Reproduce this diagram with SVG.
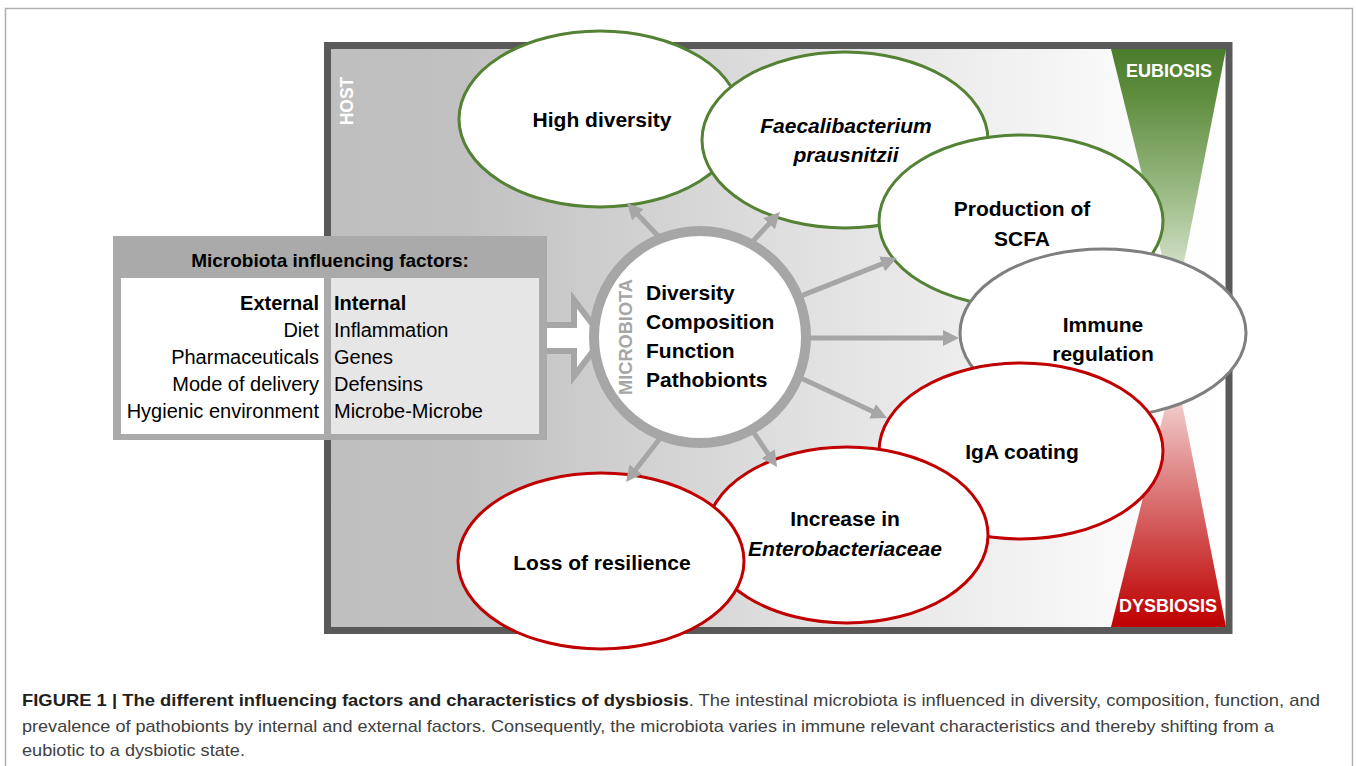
<svg xmlns="http://www.w3.org/2000/svg" width="1356" height="766" viewBox="0 0 1356 766">
<defs>
<style>
.t{font-family:"Liberation Sans",Arial,sans-serif;fill:#000}
.b{font-weight:bold}
.it{font-style:italic}
.el{fill:#fff;stroke-width:3}
.g{stroke:#548235}
.r{stroke:#c00000}
.gr{stroke:#7f7f7f}
.con{stroke:#a6a6a6;stroke-width:5;fill:none}
.cap{font-family:"Liberation Sans Narrow","Liberation Sans",Arial,sans-serif;font-size:17px;fill:#404040}
</style>
<linearGradient id="hostg" gradientUnits="userSpaceOnUse" x1="331" y1="0" x2="1226" y2="0">
<stop offset="0" stop-color="#bfbfbf"/>
<stop offset="0.15" stop-color="#c1c1c1"/>
<stop offset="0.55" stop-color="#e2e2e2"/>
<stop offset="0.9" stop-color="#fbfbfb"/>
<stop offset="1" stop-color="#ffffff"/>
</linearGradient>
<linearGradient id="eug" gradientUnits="userSpaceOnUse" x1="0" y1="49" x2="0" y2="308">
<stop offset="0" stop-color="#4b7b2c"/>
<stop offset="0.18" stop-color="#5e8d3e"/>
<stop offset="0.6" stop-color="#a3c08e"/>
<stop offset="1" stop-color="#f0f5ec"/>
</linearGradient>
<linearGradient id="dyg" gradientUnits="userSpaceOnUse" x1="0" y1="368" x2="0" y2="627">
<stop offset="0" stop-color="#fbecec"/>
<stop offset="0.4" stop-color="#e08a8a"/>
<stop offset="0.85" stop-color="#c52020"/>
<stop offset="1" stop-color="#c00000"/>
</linearGradient>
<marker id="ah" viewBox="0 0 16 16" refX="4" refY="8" markerWidth="16" markerHeight="16" markerUnits="userSpaceOnUse" orient="auto">
<path d="M0,0 L16,8 L0,16 z" fill="#a6a6a6"/>
</marker>
</defs>

<rect x="5.5" y="8.5" width="1347" height="800" fill="#fff" stroke="#b0b0b0" stroke-width="1.5"/>

<g id="host">
<rect x="331" y="49" width="895" height="578" fill="url(#hostg)"/>
<polygon id="eubiosis-bar" points="1111,49 1226,49 1175,308" fill="url(#eug)"/>
<polygon id="dysbiosis-bar" points="1111,627 1226,627 1175,368" fill="url(#dyg)"/>
<rect x="327.5" y="45.5" width="901.5" height="585" fill="none" stroke="#595959" stroke-width="7"/>
<text class="t b" x="0" y="0" font-size="17.5" fill="#fff" style="fill:#fff" text-anchor="middle" transform="translate(353,101) rotate(-90)">HOST</text>
<text class="t b" x="1169" y="77" font-size="18" style="fill:#fff" text-anchor="middle">EUBIOSIS</text>
<text class="t b" x="1168" y="612" font-size="18" style="fill:#fff" text-anchor="middle">DYSBIOSIS</text>
</g>

<g id="node-high-diversity">
<ellipse class="el g" cx="600" cy="119" rx="141" ry="88"/>
<text class="t b" x="602" y="127" font-size="21" text-anchor="middle">High diversity</text>
</g>
<g id="node-faecalibacterium">
<ellipse class="el g" cx="845" cy="140" rx="143" ry="88"/>
<text class="t b it" x="846" y="133" font-size="21" text-anchor="middle">Faecalibacterium</text>
<text class="t b it" x="846" y="162" font-size="21" text-anchor="middle">prausnitzii</text>
</g>
<g id="node-scfa">
<ellipse class="el g" cx="1021" cy="221" rx="142" ry="86"/>
<text class="t b" x="1022" y="216" font-size="21" text-anchor="middle">Production of</text>
<text class="t b" x="1022" y="246" font-size="21" text-anchor="middle">SCFA</text>
</g>
<g id="node-immune">
<ellipse class="el gr" cx="1103" cy="333" rx="143" ry="84"/>
<text class="t b" x="1103" y="332" font-size="21" text-anchor="middle">Immune</text>
<text class="t b" x="1103" y="361" font-size="21" text-anchor="middle">regulation</text>
</g>
<g id="node-iga">
<ellipse class="el r" cx="1021" cy="451" rx="142" ry="88"/>
<text class="t b" x="1022" y="459" font-size="21" text-anchor="middle">IgA coating</text>
</g>
<g id="node-enterobacteriaceae">
<ellipse class="el r" cx="847" cy="535" rx="141" ry="88"/>
<text class="t b" x="845" y="526" font-size="21" text-anchor="middle">Increase in</text>
<text class="t b it" x="845" y="556" font-size="21" text-anchor="middle">Enterobacteriaceae</text>
</g>
<g id="node-loss">
<ellipse class="el r" cx="601" cy="561" rx="143" ry="88"/>
<text class="t b" x="602" y="570" font-size="21" text-anchor="middle">Loss of resilience</text>
</g>

<g id="connectors">
<line class="con" x1="661.5" y1="239.8" x2="635.2" y2="211.8" marker-end="url(#ah)"/>
<line class="con" x1="748.6" y1="245.9" x2="771.8" y2="220.8" marker-end="url(#ah)"/>
<line class="con" x1="798.6" y1="296.9" x2="885.8" y2="262.4" marker-end="url(#ah)"/>
<line class="con" x1="805" y1="338" x2="947" y2="338" marker-end="url(#ah)"/>
<line class="con" x1="799.7" y1="377.6" x2="876.1" y2="413" marker-end="url(#ah)"/>
<line class="con" x1="751.5" y1="429.4" x2="770.3" y2="457.1" marker-end="url(#ah)"/>
<line class="con" x1="662.9" y1="434.7" x2="633.4" y2="472.5" marker-end="url(#ah)"/>
<polygon points="536,325 574,325 574,300 603,338 574,376 574,351 536,351" fill="#fff" stroke="#a6a6a6" stroke-width="6" stroke-linejoin="miter"/>
</g>

<g id="node-factors">
<rect x="113" y="236" width="434" height="204" fill="#aaaaaa"/>
<rect x="121" y="278" width="203" height="156" fill="#fff"/>
<rect x="331" y="278" width="208" height="156" fill="#e6e6e6"/>
<text class="t b" x="330" y="267" font-size="19" text-anchor="middle">Microbiota influencing factors:</text>
<g class="t" font-size="20" text-anchor="end">
<text class="t b" x="319" y="310">External</text>
<text class="t" x="319" y="337">Diet</text>
<text class="t" x="319" y="364">Pharmaceuticals</text>
<text class="t" x="319" y="391">Mode of delivery</text>
<text class="t" x="319" y="418">Hygienic environment</text>
</g>
<g class="t" font-size="20">
<text class="t b" x="334" y="310">Internal</text>
<text class="t" x="334" y="337">Inflammation</text>
<text class="t" x="334" y="364">Genes</text>
<text class="t" x="334" y="391">Defensins</text>
<text class="t" x="334" y="418">Microbe-Microbe</text>
</g>
</g>

<g id="node-microbiota">
<circle cx="700" cy="337" r="106" fill="#fff" stroke="#a6a6a6" stroke-width="10"/>
<text class="t b" x="0" y="0" font-size="19" style="fill:#a6a6a6" text-anchor="middle" textLength="116" lengthAdjust="spacingAndGlyphs" transform="translate(632,337) rotate(-90)">MICROBIOTA</text>
<text class="t b" x="646" y="300" font-size="21">Diversity</text>
<text class="t b" x="646" y="329" font-size="21">Composition</text>
<text class="t b" x="646" y="358" font-size="21">Function</text>
<text class="t b" x="646" y="387" font-size="21">Pathobionts</text>
</g>

<g id="caption">
<text class="cap" x="22" y="706" textLength="1298" lengthAdjust="spacingAndGlyphs"><tspan font-weight="bold" fill="#231f20">FIGURE 1 | The different influencing factors and characteristics of dysbiosis</tspan>. The intestinal microbiota is influenced in diversity, composition, function, and</text>
<text class="cap" x="22" y="732" textLength="1252" lengthAdjust="spacingAndGlyphs">prevalence of pathobionts by internal and external factors. Consequently, the microbiota varies in immune relevant characteristics and thereby shifting from a</text>
<text class="cap" x="22" y="756" textLength="223" lengthAdjust="spacingAndGlyphs">eubiotic to a dysbiotic state.</text>
</g>
</svg>
